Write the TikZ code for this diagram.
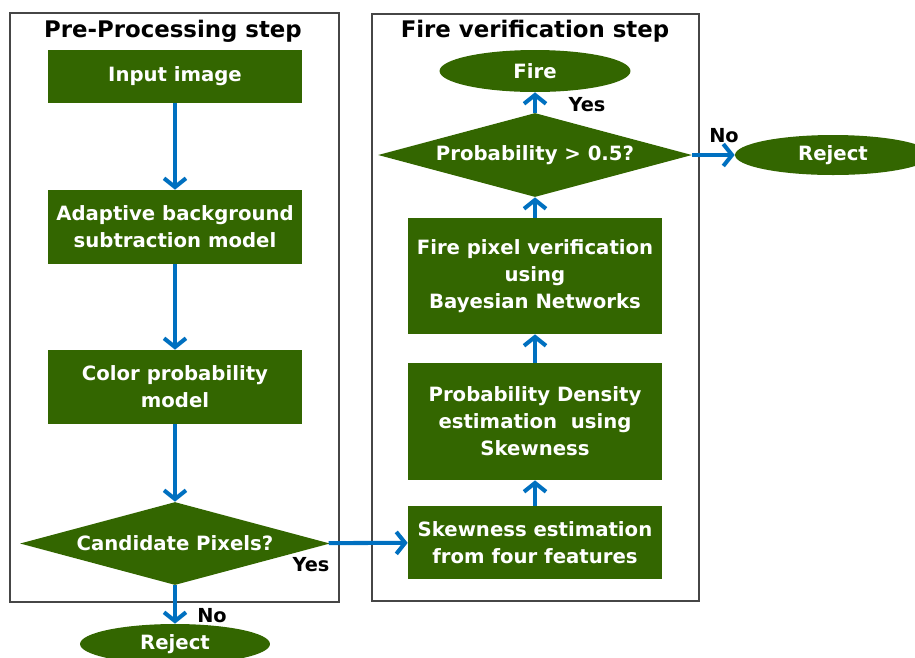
\documentclass[tikz,border=0pt]{standalone}
\usepackage{fontspec}
\setmainfont{DejaVu Sans}
\usetikzlibrary{shapes.geometric, arrows.meta}

\definecolor{stepgreen}{RGB}{51,102,0}
\definecolor{flowblue}{RGB}{0,112,192}
\definecolor{framegray}{RGB}{70,70,70}

\tikzset{
  stepbox/.style={rectangle, fill=stepgreen, text=white, inner sep=0pt, align=center,
    minimum width=5.08cm, font=\bfseries\fontsize{11.2}{15.3}\selectfont},
  decision/.style={diamond, aspect=3.7, fill=stepgreen, text=white, inner sep=0pt,
    font=\bfseries\fontsize{11.2}{15}\selectfont},
  terminal/.style={ellipse, fill=stepgreen, text=white, inner sep=0pt,
    minimum height=0.8cm, font=\bfseries\fontsize{11.2}{15}\selectfont},
  flow/.style={-{Straight Barb[length=5pt,width=12.5pt]}, line width=2.3pt, flowblue},
  steptitle/.style={anchor=base, font=\bfseries\fontsize{13}{15}\selectfont},
  answer/.style={font=\bfseries\fontsize{11}{12}\selectfont}
}

\begin{document}
\begin{tikzpicture}[x=0.02cm, y=-0.02cm]
  \useasboundingbox (0,0) rectangle (915,657);
  \clip (0,0) rectangle (915,657);

  % Frames of the two steps
  \draw[framegray, line width=0.8pt] (10,13) rectangle (339,602);
  \draw[framegray, line width=0.8pt] (372,14) rectangle (699,601);
  \node[steptitle] (pretitle) at (173,37) {Pre-Processing step};
  \node[steptitle] (firetitle) at (535,37) {Fire verification step};

  % Pre-processing chain
  \node[stepbox, minimum height=1.06cm] (input) at (175,76.5) {Input image};
  \node[stepbox, minimum height=1.48cm] (adaptive) at (175,227) {Adaptive background\\subtraction model};
  \node[stepbox, minimum height=1.48cm] (colorprob) at (175,387) {Color probability\\model};
  \node[decision, minimum width=6.2cm, minimum height=1.66cm] (candidate) at (175,543.5) {Candidate Pixels?};
  \node[terminal, minimum width=3.8cm] (rejectL) at (175,644) {Reject};

  % Fire verification chain
  \node[stepbox, minimum height=1.46cm] (skew) at (535,542.5) {Skewness estimation\\from four features};
  \node[stepbox, minimum height=2.34cm] (density) at (535,421.5) {Probability Density\\estimation\ \ using\\Skewness};
  \node[stepbox, minimum height=2.32cm] (bayes) at (535,276) {Fire pixel verification\\using\\Bayesian Networks};
  \node[decision, minimum width=6.28cm, minimum height=1.68cm] (probq) at (535,155) {Probability > 0.5?};
  \node[terminal, minimum width=3.82cm, minimum height=0.84cm] (fire) at (535,71) {Fire};
  \node[terminal, minimum width=3.92cm] (rejectR) at (833,155) {Reject};

  % Connectors
  \foreach \a/\b in {input/adaptive, adaptive/colorprob, colorprob/candidate, candidate/rejectL,
                     candidate/skew, skew/density, density/bayes, bayes/probq, probq/fire, probq/rejectR}
    \draw[flow] (\a) -- (\b);

  % Answers
  \node[answer] (yesL) at (311,565) {Yes};
  \node[answer] (noL) at (212,616) {No};
  \node[answer] (yesR) at (587,105) {Yes};
  \node[answer] (noR) at (724,136) {No};
\end{tikzpicture}
\end{document}
